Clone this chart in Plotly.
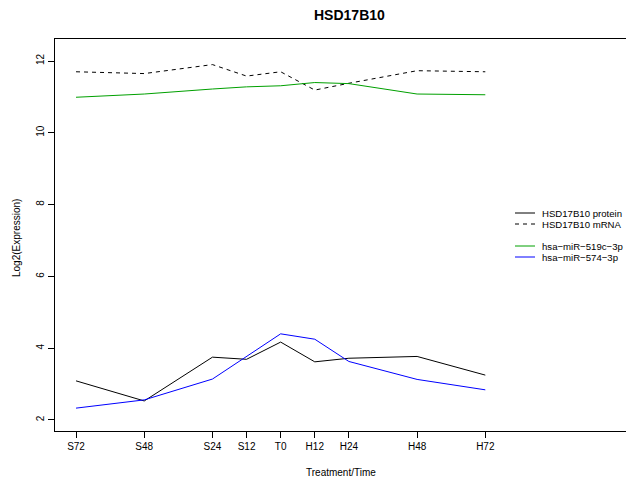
import plotly.graph_objects as go

categories = ["S72", "S48", "S24", "S12", "T0", "H12", "H24", "H48", "H72"]
hours = [-72, -48, -24, -12, 0, 12, 24, 48, 72]

protein = [3.09, 2.53, 3.75, 3.69, 4.17, 3.62, 3.72, 3.77, 3.25]
mrna = [11.70, 11.65, 11.90, 11.58, 11.70, 11.19, 11.38, 11.73, 11.70]
mir519c = [10.99, 11.08, 11.22, 11.28, 11.31, 11.40, 11.37, 11.08, 11.06]
mir574 = [2.33, 2.56, 3.14, 3.78, 4.40, 4.25, 3.63, 3.13, 2.84]

legend_names = ["HSD17B10 protein", "HSD17B10 mRNA", "hsa\u2212miR\u2212519c\u22123p", "hsa\u2212miR\u2212574\u22123p"]
GREEN = "#00a000"
BLUE = "#0000ff"
FONT = "Liberation Sans, Arial, Helvetica, sans-serif"

W, H = 626, 482
L, R, T, B = 55, 0, 39, 51

fig = go.Figure()
fig.add_trace(go.Scatter(x=hours, y=protein, mode="lines", line=dict(color="black", width=1), name=legend_names[0]))
fig.add_trace(go.Scatter(x=hours, y=mrna, mode="lines", line=dict(color="black", width=1, dash="4px,4px"), name=legend_names[1]))
fig.add_trace(go.Scatter(x=hours, y=mir519c, mode="lines", line=dict(color=GREEN, width=1), name=legend_names[2]))
fig.add_trace(go.Scatter(x=hours, y=mir574, mode="lines", line=dict(color=BLUE, width=1), name=legend_names[3]))

pw, ph = W - L - R, H - T - B

def px(xp):
    return (xp - L) / pw

def py(yp):
    return (H - B - yp) / ph

# manual R-style legend
leg_rows = [213, 224, 246, 257]
leg_styles = [dict(color="black", width=1), dict(color="black", width=1, dash="4px,4px"),
              dict(color=GREEN, width=1), dict(color=BLUE, width=1)]
annotations = []
shapes = []
for name, yrow, st in zip(legend_names, leg_rows, leg_styles):
    shapes.append(dict(type="line", xref="paper", yref="paper", x0=px(515), x1=px(535),
                       y0=py(yrow), y1=py(yrow), line=st))
    annotations.append(dict(xref="paper", yref="paper", x=px(540), y=py(yrow), text=name,
                            showarrow=False, xanchor="left", yanchor="middle",
                            font=dict(size=9.6, color="black", family=FONT)))

# title and axis titles
annotations.append(dict(xref="paper", yref="paper", x=px(349), y=py(15), text="<b>HSD17B10</b>",
                        showarrow=False, xanchor="center", yanchor="middle",
                        font=dict(size=14, color="black", family=FONT)))
annotations.append(dict(xref="paper", yref="paper", x=px(341), y=py(472), text="Treatment/Time",
                        showarrow=False, xanchor="center", yanchor="middle",
                        font=dict(size=10, color="black", family=FONT)))
annotations.append(dict(xref="paper", yref="paper", x=px(16), y=py(238), text="Log2(Expression)",
                        showarrow=False, xanchor="center", yanchor="middle", textangle=-90,
                        font=dict(size=10, color="black", family=FONT)))

fig.update_layout(
    width=W, height=H,
    margin=dict(l=L, r=R, t=T, b=B),
    paper_bgcolor="white", plot_bgcolor="white",
    showlegend=False,
    font=dict(family=FONT, size=10, color="black"),
    annotations=annotations,
    shapes=shapes,
    xaxis=dict(
        range=[-79.4, 121.5], tickmode="array", tickvals=hours, ticktext=categories,
        showgrid=False, zeroline=False, showline=True, mirror=True, linecolor="black", linewidth=1,
        ticks="outside", ticklen=6, tickcolor="black", tickwidth=1,
        tickfont=dict(size=10, family=FONT, color="black"),
    ),
    yaxis=dict(
        range=[1.693, 12.613], tickmode="array", tickvals=[2, 4, 6, 8, 10, 12],
        showgrid=False, zeroline=False, showline=True, linecolor="black", linewidth=1,
        ticks="outside", ticklen=6, tickcolor="black", tickwidth=1, tickangle=-90,
        tickfont=dict(size=10, family=FONT, color="black"),
    ),
)

fig.write_html("out.html")
